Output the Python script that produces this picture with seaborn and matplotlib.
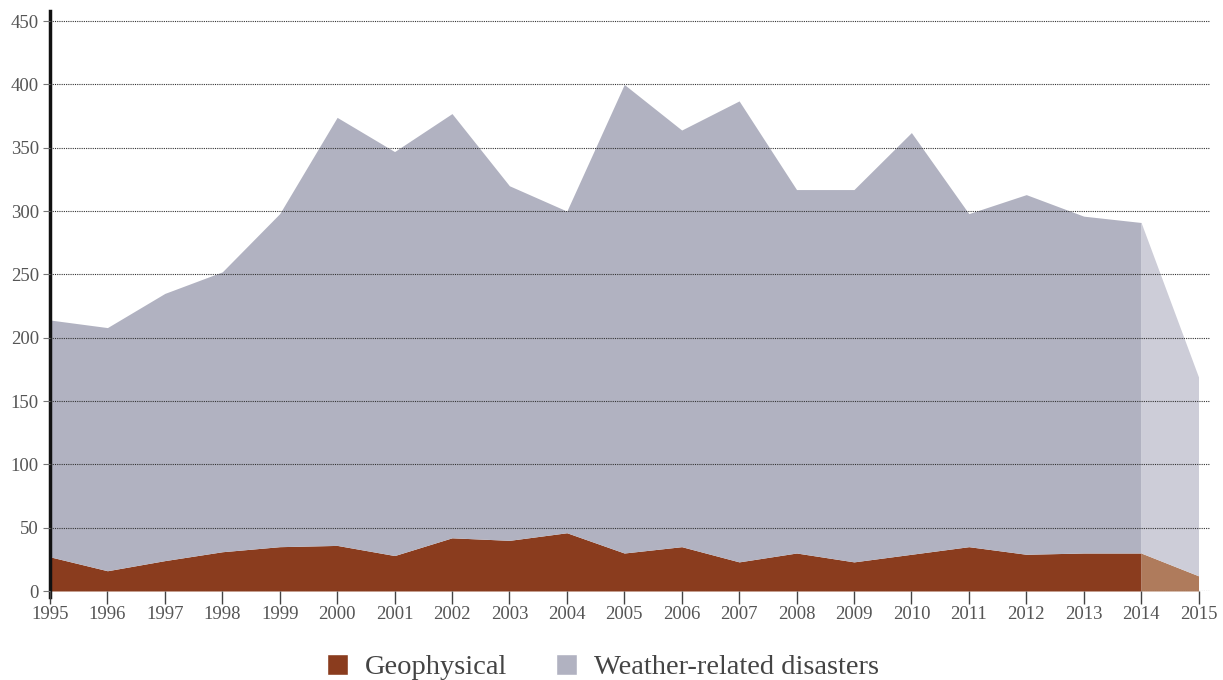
import numpy as np
import pandas as pd
import matplotlib
matplotlib.use("Agg")
import matplotlib.pyplot as plt
from matplotlib.patches import Patch
import seaborn as sns

# Valores (numero de desastres por anio)
years = list(range(1995, 2016))
geophysical = [27, 16, 24, 31, 35, 36, 28, 42, 40, 46, 30, 35, 23, 30, 23, 29,
               35, 29, 30, 30, 12]
# borde superior del area gris (total)
total = [214, 208, 235, 252, 298, 374, 347, 377, 320, 300, 400, 364, 387, 317,
         317, 362, 298, 313, 296, 291, 169]
weather = [t - g for t, g in zip(total, geophysical)]

yticks = [0, 50, 100, 150, 200, 250, 300, 350, 400, 450]

df = pd.DataFrame({"year": years, "Geophysical": geophysical,
                   "Weather-related disasters": weather})

geo_color = "#8A3C1E"
wea_color = "#B1B2C1"
geo_light = "#AF7B5C"
wea_light = "#CDCDD8"

sns.set_theme(style="white")
plt.rcParams["font.family"] = ["Liberation Serif", "DejaVu Serif"]

fig = plt.figure(figsize=(12.23, 6.8), dpi=100)
ax = fig.add_axes([50 / 1223, 1 - 591 / 680, 1160 / 1223, 580 / 680])

# años completos
full = df[df["year"] <= 2014]
ax.stackplot(full["year"], full["Geophysical"], full["Weather-related disasters"],
             colors=[geo_color, wea_color], linewidth=0)
# 2015 (parcial) con tonos claros
part = df[df["year"] >= 2014]
ax.stackplot(part["year"], part["Geophysical"], part["Weather-related disasters"],
             colors=[geo_light, wea_light], linewidth=0)

ax.set_xlim(1995, 2015.2)
ax.set_ylim(0, 458)
ax.set_yticks(yticks)
ax.set_xticks(years)
ax.set_xticklabels([str(y) for y in years])

ax.grid(axis="y", linestyle=(0, (1, 1)), color="#333333", linewidth=0.8)
ax.grid(axis="x", visible=False)
ax.set_axisbelow(False)

for s in ["top", "right", "bottom"]:
    ax.spines[s].set_visible(False)
ax.spines["left"].set_color("#111111")
ax.spines["left"].set_linewidth(2.5)
ax.spines["left"].set_bounds(-5, 458)

ax.tick_params(axis="x", direction="out", length=9, width=1, color="#444444",
               labelsize=13.5, labelcolor="#555555", pad=2, bottom=True)
ax.tick_params(axis="y", direction="out", length=5, width=0.8, color="#777777",
               labelsize=13.5, labelcolor="#555555", pad=3, left=True)

handles = [Patch(facecolor=geo_color, label="Geophysical"),
           Patch(facecolor=wea_color, label="Weather-related disasters")]
leg = fig.legend(handles=handles, loc="center", ncol=2, frameon=False,
                 fontsize=20.5, handlelength=0.75, handleheight=0.75,
                 handletextpad=0.6, columnspacing=1.7, labelcolor="#444444")
leg.set_bbox_to_anchor((603 / 1223, 1 - 667 / 680), transform=fig.transFigure)

fig.savefig("out.png", dpi=100)
